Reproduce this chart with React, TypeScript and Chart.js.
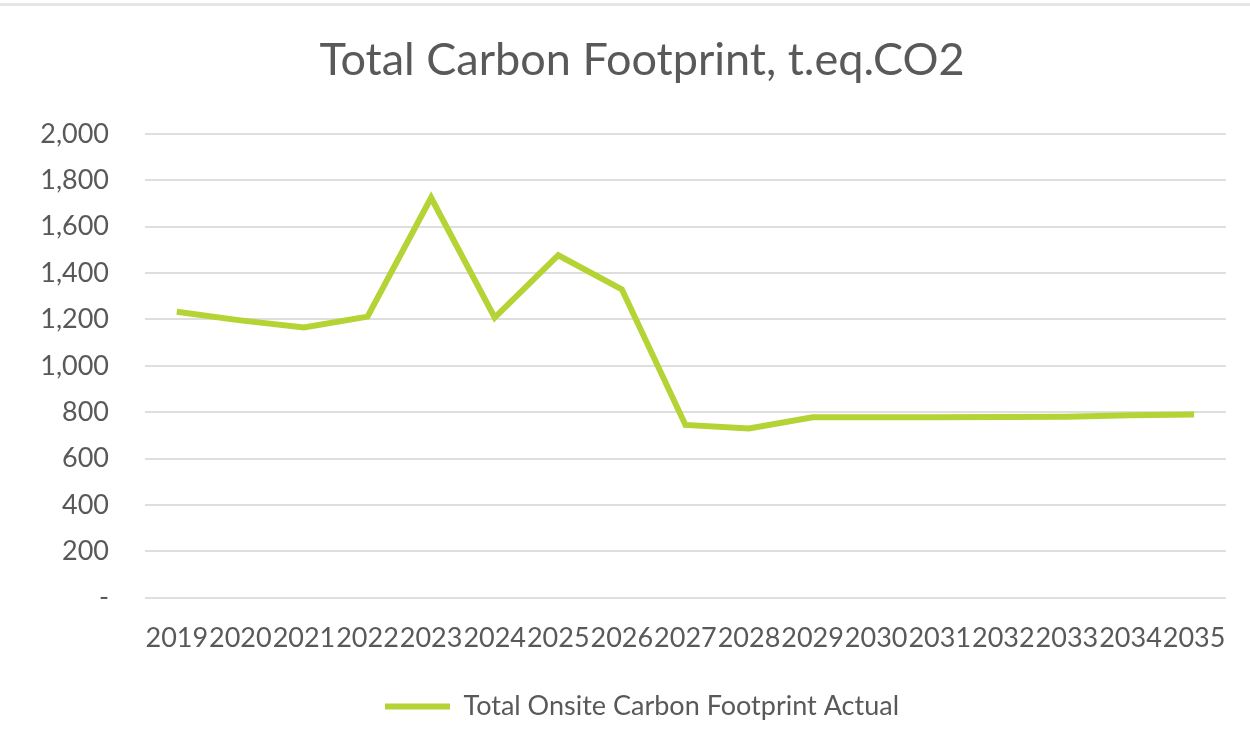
import React, { useEffect, useRef } from "react";
import { Chart, registerables } from "chart.js";

Chart.register(...registerables);

const TITLE = "Total Carbon Footprint, t.eq.CO2";
const SERIES_LABEL = "Total Onsite Carbon Footprint Actual";
const YEARS = ["2019", "2020", "2021", "2022", "2023", "2024", "2025", "2026", "2027", "2028", "2029", "2030", "2031", "2032", "2033", "2034", "2035"];
const FOOTPRINT = [1233, 1196, 1165, 1212, 1725, 1208, 1477, 1330, 745, 730, 778, 778, 778, 779, 780, 787, 790];
const Y_MIN = 0;
const Y_MAX = 2000;
const Y_STEP = 200;

const TEXT = "#595959";
const LINE = "#b4d334";
const GRID = "#dedede";
const FONT = "Lato, 'Open Sans', sans-serif";

export default function App() {
  const ref = useRef<HTMLCanvasElement | null>(null);

  useEffect(() => {
    document.body.style.margin = "0";
    const canvas = ref.current;
    if (!canvas) return;
    const chart = new Chart(canvas, {
      type: "line",
      data: {
        labels: YEARS,
        datasets: [
          {
            label: SERIES_LABEL,
            data: FOOTPRINT,
            borderColor: LINE,
            backgroundColor: LINE,
            borderWidth: 6,
            pointRadius: 0,
            tension: 0,
            borderJoinStyle: "miter",
            yAxisID: "y",
          },
        ],
      },
      options: {
        responsive: false,
        animation: false,
        layout: { padding: { left: 37, right: 3, top: 0, bottom: 20 } },
        plugins: {
          title: {
            display: true,
            text: TITLE,
            color: TEXT,
            font: { family: FONT, size: 45, weight: "normal" },
            padding: { top: 33, bottom: 47 },
          },
          legend: {
            display: true,
            position: "bottom",
            labels: {
              color: TEXT,
              font: { family: FONT, size: 27 },
              usePointStyle: true,
              pointStyle: "line",
              pointStyleWidth: 65,
              padding: 15,
            },
          },
          tooltip: { enabled: false },
        },
        scales: {
          x: {
            type: "category",
            offset: true,
            grid: { display: false, drawTicks: false },
            border: { display: false },
            ticks: {
              color: TEXT,
              font: { family: FONT, size: 27 },
              maxRotation: 0,
              autoSkip: false,
              padding: 24,
            },
          },
          y: {
            position: "left",
            min: Y_MIN,
            max: Y_MAX,
            grid: { color: GRID, lineWidth: 2, drawTicks: false },
            border: { display: false },
            afterFit: (scale: any) => {
              scale.width = 108;
            },
            ticks: {
              stepSize: Y_STEP,
              color: TEXT,
              font: { family: FONT, size: 27 },
              padding: 36,
              callback: (v: any) => (Number(v) === 0 ? "-" : Number(v).toLocaleString("en-US")),
            },
          },
          yRight: {
            type: "linear",
            position: "right",
            display: true,
            min: Y_MIN,
            max: Y_MAX,
            grid: { display: false, drawTicks: false },
            border: { display: false },
            ticks: { display: false },
            afterFit: (scale: any) => {
              scale.width = 17;
            },
          },
        },
      },
    });
    return () => chart.destroy();
  }, []);

  return (
    <div style={{ position: "relative", width: 1250, height: 750, background: "#fff" }}>
      <div style={{ position: "absolute", left: 0, top: 3, width: 1250, height: 3, background: "#e6e6e6" }} />
      <canvas ref={ref} width={1250} height={750} style={{ display: "block", width: 1250, height: 750 }} />
    </div>
  );
}
